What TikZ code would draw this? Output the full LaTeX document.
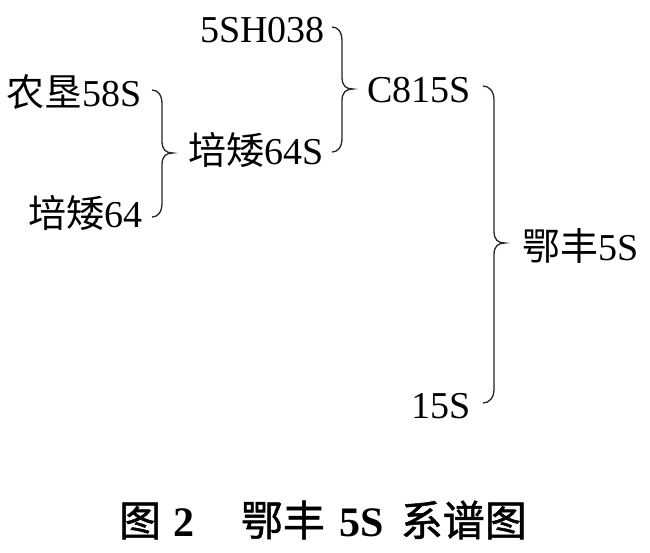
\documentclass[tikz,border=0pt]{standalone}
\usepackage{fontspec}
\setmainfont{Liberation Serif}
\newfontfamily\cjk{Noto Sans CJK SC}
\newfontfamily\cjkcap{Noto Sans CJK SC}[FakeBold=1.2]
\newcommand{\capcjk}[1]{{\mdseries\cjkcap #1}}
\tikzset{
  lbl/.style={inner sep=0pt, text=black, font=\fontsize{38}{40}\selectfont},
  brc/.style={line width=1.3pt, draw=black!85},
  pics/cbrace/.style n args={3}{code={
    \draw[brc] (0,0) .. controls (6,0) and (#3,5) .. (#3,14)
      -- (#3,#2-12) .. controls (#3,#2-3) and (#3+4,#2) .. (#3+11,#2)
      .. controls (#3+4,#2) and (#3,#2+3) .. (#3,#2+12)
      -- (#3,#1-14) .. controls (#3,#1-5) and (6,#1) .. (0,#1);
  }}
}
\begin{document}
\begin{tikzpicture}[x=1pt,y=-1pt]
\useasboundingbox (0,0) rectangle (650,552);
% labels
\node[lbl, anchor=base east] (p1) at (325,42) {5SH038};
\node[lbl, anchor=base east] (p2) at (142,106) {{\cjk 农垦}58S};
\node[lbl, anchor=base east] (p3) at (324,164) {{\cjk 培矮}64S};
\node[lbl, anchor=base east] (p4) at (143,227) {{\cjk 培矮}64};
\node[lbl, anchor=base east] (p5) at (471,102) {C815S};
\node[lbl, anchor=base west] (p6) at (522,260) {{\cjk 鄂丰}5S};
\node[lbl, anchor=base east] (p7) at (471,418) {15S};
% braces
\pic (b1) at (152,90) {cbrace={127}{63}{10}};
\pic (b2) at (332,27) {cbrace={125}{62}{10}};
\pic (b3) at (483,86) {cbrace={317}{157}{11}};
% caption
\node[anchor=base, inner sep=0pt, font=\fontsize{42}{44}\selectfont\bfseries] (cap) at (323,536)
  {\capcjk{图}\hspace{0.3em}2\hspace{1.1em}\capcjk{鄂丰}\hspace{0.35em}5S\hspace{0.4em}\capcjk{系谱图}};
\end{tikzpicture}
\end{document}
